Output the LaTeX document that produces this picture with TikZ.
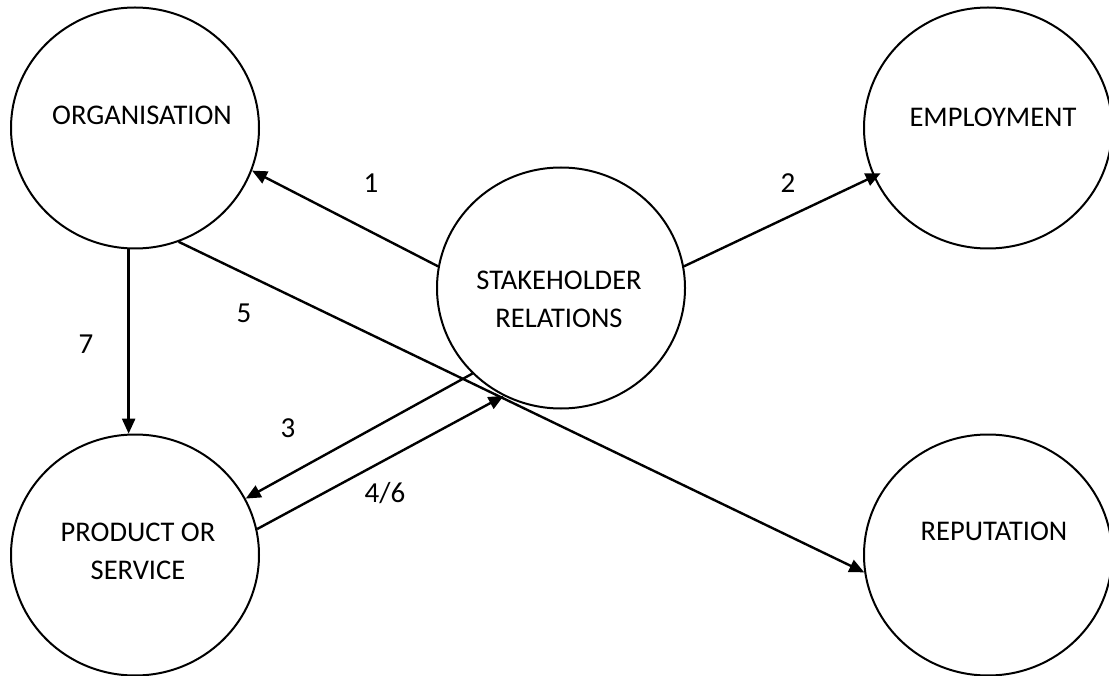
\documentclass[tikz,border=0pt]{standalone}
\usepackage{fontspec}
\setmainfont{Carlito}
\usetikzlibrary{shapes.geometric,arrows.meta,calc}
\tikzset{
  bubble/.style={ellipse,draw,line width=2pt,minimum width=248pt,minimum height=241pt,inner sep=0pt},
  caption/.style={font=\fontsize{28.5}{38}\selectfont,align=center,inner sep=0pt},
  num/.style={font=\fontsize{29}{32}\selectfont,inner sep=0pt},
  flow/.style={line width=2.4pt,-{Triangle[length=15pt,width=13pt]}}
}
\begin{document}
\begin{tikzpicture}[x=1pt,y=-1pt]
\useasboundingbox (0,0) rectangle (1109,676);

% the five circles
\node[bubble] (org)  at (135,128) {};
\node[bubble] (emp)  at (988,128) {};
\node[bubble] (stk)  at (561,288) {};
\node[bubble] (prod) at (135,555) {};
\node[bubble] (rep)  at (988,555) {};

% circle captions
\node[caption] at ($(org)+(7,-13)$)  {ORGANISATION};
\node[caption] at ($(emp)+(5,-11)$)  {EMPLOYMENT};
\node[caption] at ($(stk)+(-2,11)$)  {STAKEHOLDER\\RELATIONS};
\node[caption] at ($(prod)+(3,-4)$)  {PRODUCT OR\\SERVICE};
\node[caption] at ($(rep)+(6,-24)$)  {REPUTATION};

% relations between the circles
\draw[flow] (stk.170.3) -- (org.-20.6);
\draw[flow,shorten >=-8pt] (stk.10.2) -- (emp.-157.7);
\draw[flow] (org.-69.8) -- (rep.188.9);
\draw[flow] (org.-93.3) -- (prod.93.3);
\draw[flow] (stk.-136.3) -- (prod.27.6);
\draw[flow] (prod.12.8) -- (stk.-118.6);

% relation numbers
\node[num] (n1) at (371,183) {1};
\node[num] (n2) at (788,183) {2};
\node[num] (n5) at (244,313) {5};
\node[num] (n7) at (86,344) {7};
\node[num] (n3) at (288,428) {3};
\node[num] (n46) at (385,493) {4/6};
\end{tikzpicture}
\end{document}
